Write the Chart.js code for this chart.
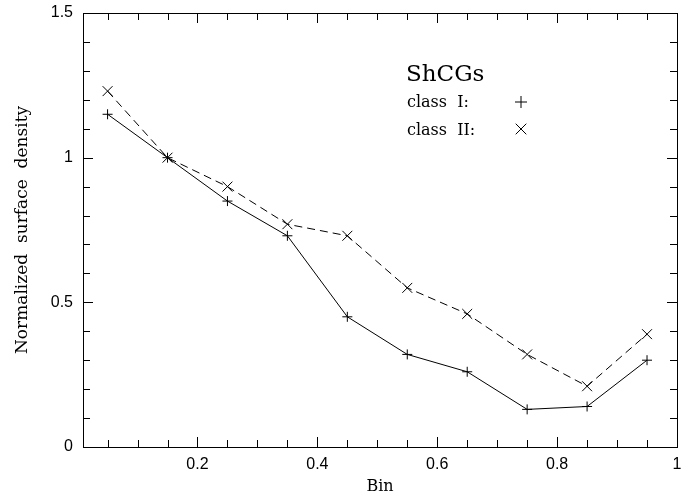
<!DOCTYPE html>
<html>
<head>
<meta charset="utf-8">
<script src="https://cdn.jsdelivr.net/npm/chart.js@4/dist/chart.umd.min.js"></script>
<style>
  html, body { margin: 0; padding: 0; background: #fff; }
  #wrap { width: 691px; height: 497px; position: relative; }
</style>
</head>
<body>
<div id="wrap"><canvas id="c" width="691" height="497"></canvas></div>
<script>
// ---- data ----
const bins = [0.05, 0.15, 0.25, 0.35, 0.45, 0.55, 0.65, 0.75, 0.85, 0.95];
const classI = [1.15, 1.00, 0.85, 0.73, 0.45, 0.32, 0.26, 0.13, 0.14, 0.30];
const classII = [1.23, 1.00, 0.90, 0.77, 0.73, 0.55, 0.46, 0.32, 0.21, 0.39];
const xTickLabels = [0.2, 0.4, 0.6, 0.8, 1];
const yTickLabels = [0, 0.5, 1, 1.5];
const legendTitle = 'ShCGs';
const legendLabels = ['class  I:', 'class  II:'];
const xTitle = 'Bin';
const yTitle = 'Normalized  surface  density';

const X_MIN = 0.009, X_MAX = 1, Y_MIN = 0, Y_MAX = 1.5;
const X_MINOR = 0.05, Y_MINOR = 0.1;

const frame = {
  id: 'frame',
  afterDatasetsDraw(chart) {
    const { ctx, chartArea: a, scales: { x, y } } = chart;
    ctx.save();
    ctx.strokeStyle = '#000';
    ctx.lineWidth = 1;
    ctx.strokeRect(Math.round(a.left) + 0.5, Math.round(a.top) + 0.5,
                   Math.round(a.right - a.left), Math.round(a.bottom - a.top));
    ctx.beginPath();
    for (let k = 1; k * X_MINOR <= X_MAX + 1e-9; k++) {
      const v = k * X_MINOR;
      const major = Math.abs(v / 0.2 - Math.round(v / 0.2)) < 1e-6;
      const len = major ? 10 : 7;
      const px = Math.round(x.getPixelForValue(v)) + 0.5;
      ctx.moveTo(px, a.bottom); ctx.lineTo(px, a.bottom - len);
      ctx.moveTo(px, a.top); ctx.lineTo(px, a.top + len);
    }
    for (let k = 1; k * Y_MINOR < Y_MAX - 1e-9; k++) {
      const v = k * Y_MINOR;
      const major = Math.abs(v / 0.5 - Math.round(v / 0.5)) < 1e-6;
      const len = major ? 10 : 7;
      const py = Math.round(y.getPixelForValue(v)) + 0.5;
      ctx.moveTo(a.left, py); ctx.lineTo(a.left + len, py);
      ctx.moveTo(a.right, py); ctx.lineTo(a.right - len, py);
    }
    ctx.stroke();

    ctx.fillStyle = '#000';
    ctx.textAlign = 'left';
    ctx.textBaseline = 'alphabetic';
    ctx.font = '23px "DejaVu Serif"';
    ctx.fillText(legendTitle, 406, 81);
    ctx.font = '16px "DejaVu Serif"';
    ctx.fillText(legendLabels[0], 407, 107);
    ctx.fillText(legendLabels[1], 407, 135);
    const ds = chart.data.datasets;
    Chart.helpers.drawPoint(ctx, { pointStyle: ds[0].pointStyle, radius: 6, rotation: 0, borderWidth: 1 }, 521, 102);
    Chart.helpers.drawPoint(ctx, { pointStyle: ds[1].pointStyle, radius: 7.5, rotation: 0, borderWidth: 1 }, 521, 129);
    ctx.restore();
  }
};

new Chart(document.getElementById('c'), {
  type: 'line',
  data: {
    datasets: [
      {
        label: 'class I',
        data: bins.map((b, i) => ({ x: b, y: classI[i] })),
        borderColor: '#000', borderWidth: 1, backgroundColor: '#000',
        pointStyle: 'cross', pointRadius: 5, pointBorderWidth: 1,
        pointBorderColor: '#000', tension: 0, fill: false
      },
      {
        label: 'class II',
        data: bins.map((b, i) => ({ x: b, y: classII[i] })),
        borderColor: '#000', borderWidth: 1, borderDash: [8, 5], backgroundColor: '#000',
        pointStyle: 'crossRot', pointRadius: 7, pointBorderWidth: 1,
        pointBorderColor: '#000', tension: 0, fill: false
      }
    ]
  },
  options: {
    responsive: false,
    animation: false,
    devicePixelRatio: 1,
    layout: { padding: { top: 13, right: 14, left: 0, bottom: 0 } },
    plugins: { legend: { display: false }, tooltip: { enabled: false } },
    scales: {
      x: {
        type: 'linear', min: X_MIN, max: X_MAX,
        afterBuildTicks(s) { s.ticks = xTickLabels.map(v => ({ value: v })); },
        afterFit(s) { s.height = 50; s.paddingLeft = 0; s.paddingRight = 0; },
        grid: { display: false, drawTicks: false },
        border: { display: false },
        ticks: {
          color: '#000', font: { family: '"Liberation Sans"', size: 16 }, padding: 8,
          maxRotation: 0, autoSkip: false,
          callback: v => String(v)
        },
        title: { display: true, text: xTitle, color: '#000',
                 font: { family: '"DejaVu Serif"', size: 16 }, padding: { top: 0, bottom: 1 } }
      },
      y: {
        type: 'linear', min: Y_MIN, max: Y_MAX,
        afterBuildTicks(s) { s.ticks = yTickLabels.map(v => ({ value: v })); },
        afterFit(s) { s.width = 83; s.paddingTop = 0; s.paddingBottom = 0; },
        grid: { display: false, drawTicks: false },
        border: { display: false },
        ticks: {
          color: '#000', font: { family: '"Liberation Sans"', size: 16 }, padding: 10,
          callback: v => String(v)
        },
        title: { display: true, text: yTitle, color: '#000',
                 font: { family: '"DejaVu Serif"', size: 17 }, padding: { top: 12, bottom: 0 } }
      }
    }
  },
  plugins: [frame]
});
</script>
</body>
</html>
